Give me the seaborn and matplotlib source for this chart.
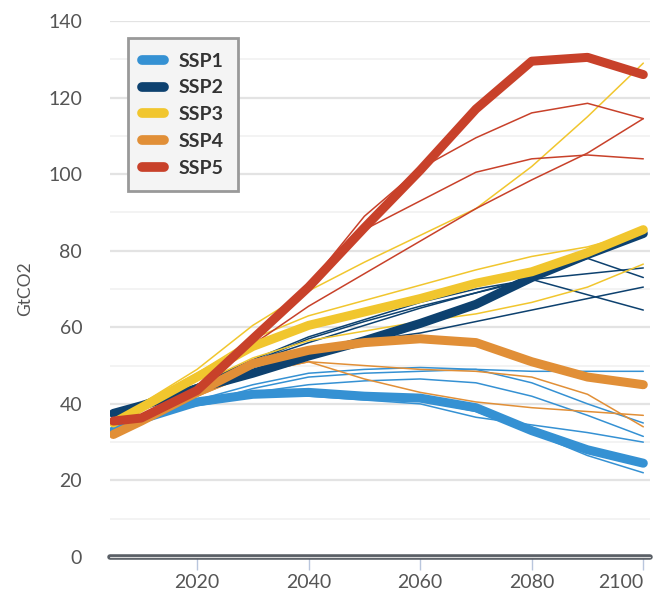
import numpy as np
import pandas as pd
import matplotlib
matplotlib.use("Agg")
import matplotlib.pyplot as plt
import seaborn as sns
from matplotlib.lines import Line2D

years = [2005, 2010, 2020, 2030, 2040, 2050, 2060, 2070, 2080, 2090, 2100]

ssp_names = ["SSP1", "SSP2", "SSP3", "SSP4", "SSP5"]
ssp_colors = ["#3591d3", "#0d416f", "#f1c62e", "#e18f37", "#c8412a"]

# marker scenarios (thick lines)
ssp1_marker = [33, 36, 40.5, 42.5, 43, 42, 41.5, 39, 33, 28, 24.5]
ssp2_marker = [37.5, 39.5, 44, 48, 52.5, 56.5, 61, 66, 73, 79, 84.5]
ssp3_marker = [35, 39, 47, 55, 60.5, 64, 67.5, 71.5, 74.5, 79.5, 85.5]
ssp4_marker = [32, 35.5, 43, 50.5, 54, 56, 57, 56, 51, 47, 45]
ssp5_marker = [35.5, 36.3, 43.5, 57, 70.5, 86, 101, 117, 129.5, 130.5, 126]

# other models (thin lines)
ssp1_others = [
    [34, 37, 40, 44, 47, 48, 48.5, 49, 48.5, 48.5, 48.5],
    [34, 37, 41, 45, 48, 49, 49.5, 49, 45.5, 40, 35],
    [34, 36.5, 40, 43, 45, 46, 46.5, 45.5, 42, 37, 31.5],
    [34, 36.5, 39.5, 42, 42, 41, 40, 36.5, 34.5, 32.5, 30],
    [33, 36, 40, 42, 43, 42, 41, 38, 32.5, 26.5, 22],
]
ssp2_others = [
    [37, 39, 45, 51, 56, 60.5, 65, 69, 73, 78, 73],
    [37, 39, 45, 51, 57, 61.5, 65.5, 69, 72.5, 74, 75.5],
    [37, 39, 45, 51.5, 57.5, 62, 66.5, 70, 72.5, 68.5, 64.5],
    [37, 39, 44.5, 49.5, 54, 56.5, 58.5, 61.5, 64.5, 67.5, 70.5],
]
ssp3_others = [
    [35, 40, 49, 60.5, 69.5, 77, 84, 91, 102, 115, 129],
    [35, 39, 45, 52, 56.5, 59, 61.5, 63.5, 66.5, 70.5, 76.5],
    [35, 40, 48, 57, 63, 67, 71, 75, 78.5, 81, 85],
]
ssp4_others = [
    [32, 35.5, 42, 48, 51, 50, 49, 48.5, 47, 42.5, 34],
    [32, 35.5, 42, 48, 51, 46.5, 43, 40.5, 39, 38, 37],
]
ssp5_others = [
    [35.5, 36.5, 44, 57, 71, 89, 101.5, 109.5, 116, 118.5, 114.5],
    [35.5, 36.3, 43.5, 57, 70.5, 85.5, 93, 100.5, 104, 105, 104],
    [35, 36, 44, 55.5, 65.5, 74, 82.5, 91, 98.5, 105.5, 114.5],
]

markers = [ssp1_marker, ssp2_marker, ssp3_marker, ssp4_marker, ssp5_marker]
others = [ssp1_others, ssp2_others, ssp3_others, ssp4_others, ssp5_others]

rows = []
for name, runs in zip(ssp_names, others):
    for i, run in enumerate(runs):
        for yr, v in zip(years, run):
            rows.append({"year": yr, "value": v, "ssp": name, "model": f"{name}_{i}"})
thin_df = pd.DataFrame(rows)

rows = []
for name, run in zip(ssp_names, markers):
    for yr, v in zip(years, run):
        rows.append({"year": yr, "value": v, "ssp": name})
thick_df = pd.DataFrame(rows)

palette = dict(zip(ssp_names, ssp_colors))

sns.set_style("white")
plt.rcParams["font.family"] = ["Lato", "DejaVu Sans"]

fig = plt.figure(figsize=(6.53, 5.94), dpi=100)
ax = fig.add_axes([110 / 653, 37 / 594, 540 / 653, 536 / 594])

# thin lines: the other models of each SSP
sns.lineplot(data=thin_df, x="year", y="value", hue="ssp", units="model",
             estimator=None, palette=palette, lw=1.1, legend=False, ax=ax, zorder=3)

# thick lines: marker scenarios
for name in ssp_names:
    sub = thick_df[thick_df["ssp"] == name]
    sns.lineplot(data=sub, x="year", y="value", color=palette[name], lw=6.5,
                 solid_capstyle="round", solid_joinstyle="round",
                 legend=False, ax=ax, zorder=4)

ax.set_xlim(2004.4, 2101.2)
ax.set_ylim(0, 140)
ax.set_yticks(range(0, 141, 20))
ax.set_yticks(range(10, 140, 20), minor=True)
ax.set_xticks([2020, 2040, 2060, 2080, 2100])

ax.grid(axis="y", which="major", color="#e3e3e3", lw=1.6, zorder=0)
ax.grid(axis="y", which="minor", color="#f1f1f1", lw=1.2, zorder=0)
ax.grid(axis="x", visible=False)

for s in ["left", "right", "top", "bottom"]:
    ax.spines[s].set_visible(False)
ax.axhline(0, color="#5a5f66", lw=4, zorder=5, clip_on=False)
ax.axhline(0, color="#d8d8d8", lw=0.8, zorder=6, clip_on=False)

ax.tick_params(axis="x", which="major", length=9, width=1, color="#b9c6dd",
               labelsize=14, labelcolor="#555555", pad=3, direction="out", bottom=True)
ax.tick_params(axis="y", which="both", length=0, labelsize=14,
               labelcolor="#555555", pad=20)

# keep the last year label inside the figure
ax.set_xticklabels([str(t) for t in [2020, 2040, 2060, 2080, 2100]])
ax.get_xticklabels()[-1].set_horizontalalignment("right")
ax.get_xticklabels()[-1].set_x(2101.5)

ax.set_xlabel("")
ax.set_ylabel("GtCO2", fontsize=12.5, color="#555555", labelpad=11)

handles = [Line2D([0], [0], color=c, lw=7, solid_capstyle="round") for c in ssp_colors]
leg = ax.legend(handles, ssp_names, loc="upper left", bbox_to_anchor=(0.033, 0.968),
                borderaxespad=0, frameon=True, fancybox=False, framealpha=1,
                facecolor="#f4f4f4", edgecolor="#999999", handlelength=1.1,
                handletextpad=0.75, labelspacing=0.5, borderpad=0.75,
                prop={"weight": "bold", "size": 14})
leg.get_frame().set_linewidth(2)
for t in leg.get_texts():
    t.set_color("#333333")
leg.set_zorder(10)

fig.savefig("out.png", dpi=100)
